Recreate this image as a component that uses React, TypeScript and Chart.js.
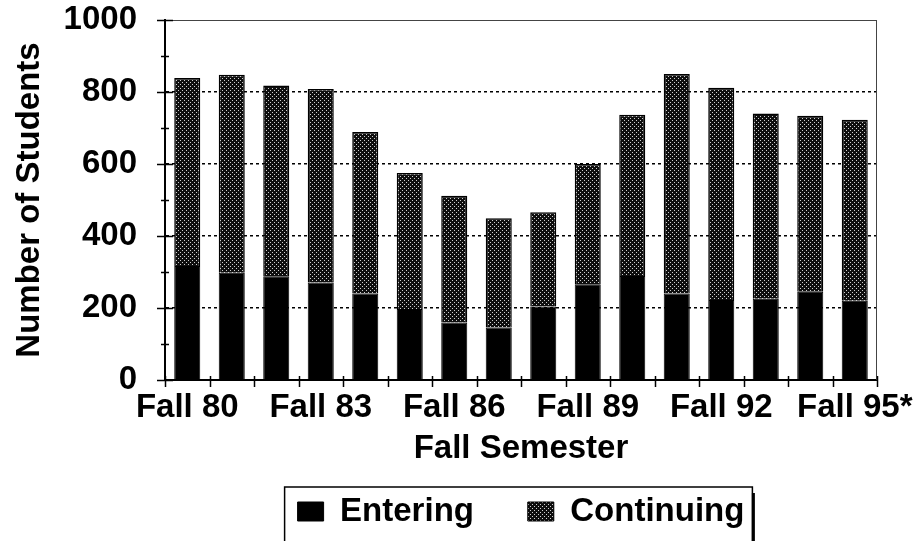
import React, { useEffect, useRef } from 'react';
import { Chart, registerables } from 'chart.js';

Chart.register(...registerables);

const semesters = [
  'Fall 80', 'Fall 81', 'Fall 82', 'Fall 83', 'Fall 84', 'Fall 85', 'Fall 86', 'Fall 87',
  'Fall 88', 'Fall 89', 'Fall 90', 'Fall 91', 'Fall 92', 'Fall 93', 'Fall 94', 'Fall 95*',
];
const entering = [317, 298, 288, 271, 240, 197, 160, 146, 204, 266, 289, 240, 222, 226, 245, 220];
const continuing = [522, 550, 530, 537, 449, 378, 352, 303, 262, 334, 448, 610, 590, 514, 489, 503];
const yMin = 0;
const yMax = 1000;
const yStep = 200;
const yMinorStep = 100;
const xLabelEvery = 3;
const seriesNames = ['Entering', 'Continuing'];
const xTitle = 'Fall Semester';
const yTitle = 'Number of Students';

const FONT = '"Liberation Sans", Arial, sans-serif';
const FS = 33;

function makePattern(): CanvasPattern | string {
  const c = document.createElement('canvas');
  c.width = 4;
  c.height = 4;
  const g = c.getContext('2d');
  if (!g) return '#333';
  g.fillStyle = '#0e0e0e';
  g.fillRect(0, 0, 4, 4);
  g.fillStyle = '#d0d0d0';
  g.fillRect(0, 0, 1, 1);
  g.fillRect(2, 2, 1, 1);
  const p = g.createPattern(c, 'repeat');
  return p || '#333';
}

const framePlugin = {
  id: 'frameAndTicks',
  afterDraw(chart: any) {
    const { ctx, chartArea: ca } = chart;
    const x = chart.scales.x;
    const y = chart.scales.y;
    ctx.save();
    // thin top and right frame
    ctx.lineWidth = 1;
    ctx.strokeStyle = '#444';
    ctx.beginPath();
    ctx.moveTo(ca.left, ca.top + 0.5);
    ctx.lineTo(ca.right, ca.top + 0.5);
    ctx.moveTo(ca.right - 0.5, ca.top);
    ctx.lineTo(ca.right - 0.5, ca.bottom);
    ctx.stroke();
    ctx.strokeStyle = '#000';
    // y tick marks crossing the axis
    ctx.lineWidth = 1.5;
    ctx.beginPath();
    for (let v = y.min; v <= y.max; v += yMinorStep) {
      const py = Math.round(y.getPixelForValue(v)) + 0.5;
      const len = v % yStep === 0 ? 8 : 4;
      ctx.moveTo(ca.left - len, py);
      ctx.lineTo(ca.left + len, py);
    }
    ctx.stroke();
    // x tick marks at category boundaries
    const n = semesters.length;
    const step = x.getPixelForValue(1) - x.getPixelForValue(0);
    const start = x.getPixelForValue(0) - step / 2;
    ctx.beginPath();
    for (let i = 0; i <= n; i++) {
      const px = Math.round(start + i * step) + 0.5;
      ctx.moveTo(px, ca.bottom - 4);
      ctx.lineTo(px, ca.bottom + 7);
    }
    ctx.stroke();
    // legend border
    const lg = chart.legend;
    if (lg && lg.legendHitBoxes && lg.legendHitBoxes.length) {
      const hb = lg.legendHitBoxes;
      const first = hb[0];
      const last = hb[hb.length - 1];
      const l = first.left - 13;
      const r = last.left + last.width + 8;
      const t = lg.top;
      ctx.lineWidth = 1.5;
      ctx.beginPath();
      ctx.moveTo(l, t + 80);
      ctx.lineTo(l, t);
      ctx.lineTo(r, t);
      ctx.lineTo(r, t + 80);
      ctx.stroke();
      ctx.lineWidth = 3;
      ctx.beginPath();
      ctx.moveTo(r + 1, t + 6);
      ctx.lineTo(r + 1, t + 80);
      ctx.stroke();
    }
    ctx.restore();
  },
};

export default function App() {
  const ref = useRef<HTMLCanvasElement | null>(null);

  useEffect(() => {
    if (!ref.current) return;
    const pattern = makePattern();
    const chart = new Chart(ref.current, {
      type: 'bar',
      data: {
        labels: semesters,
        datasets: [
          {
            label: seriesNames[0],
            data: entering,
            backgroundColor: '#000',
            borderColor: '#000',
            borderWidth: 1,
            barPercentage: 0.585,
            categoryPercentage: 1,
          },
          {
            label: seriesNames[1],
            data: continuing,
            backgroundColor: pattern as any,
            borderColor: '#000',
            borderWidth: 1.5,
            barPercentage: 0.585,
            categoryPercentage: 1,
          },
        ],
      },
      options: {
        responsive: false,
        animation: false,
        devicePixelRatio: 1,
        layout: { padding: { left: 8, right: 41, top: 20, bottom: 3 } },
        plugins: {
          tooltip: { enabled: false },
          legend: {
            position: 'bottom',
            fullSize: false,
            labels: {
              color: '#000',
              font: { family: FONT, size: FS, weight: 'bold' },
              boxWidth: 26,
              boxHeight: 19,
              padding: 8,
              generateLabels: (c: any) => {
                const items = Chart.defaults.plugins.legend.labels.generateLabels(c);
                items.forEach((it: any, i: number) => {
                  if (i < items.length - 1) it.text = it.text + '     ';
                  it.lineWidth = 1;
                });
                return items;
              },
            },
          },
        },
        scales: {
          x: {
            stacked: true,
            grid: {
              display: true,
              drawOnChartArea: false,
              drawTicks: true,
              tickLength: 8,
              color: 'rgba(0,0,0,0)',
              tickColor: 'rgba(0,0,0,0)',
            },
            border: { display: true, color: '#000', width: 2 },
            afterFit: (s: any) => {
              s.height = 107;
            },
            ticks: {
              color: '#000',
              font: { family: FONT, size: FS, weight: 'bold' },
              autoSkip: false,
              maxRotation: 0,
              padding: 0,
              callback: (_v: any, i: number) => (i % xLabelEvery === 0 ? semesters[i] : ''),
            },
            title: {
              display: true,
              text: xTitle,
              color: '#000',
              font: { family: FONT, size: FS, weight: 'bold' },
              padding: { top: 3, bottom: 18 },
            },
          },
          y: {
            stacked: true,
            min: yMin,
            max: yMax,
            afterFit: (s: any) => {
              s.width = 157;
            },
            grid: {
              drawTicks: true,
              tickLength: 28,
              tickColor: 'rgba(0,0,0,0)',
              lineWidth: 1.5,
              color: (ctx: any) => {
                const v = ctx.tick ? ctx.tick.value : 0;
                return v === yMin || v === yMax ? 'rgba(0,0,0,0)' : '#000';
              },
            },
            border: { display: true, color: '#000', width: 2, dash: [3, 3] },
            ticks: {
              stepSize: yStep,
              color: '#000',
              font: { family: FONT, size: FS, weight: 'bold' },
              padding: 0,
              callback: (v: any) => String(v),
            },
            title: {
              display: true,
              text: yTitle,
              color: '#000',
              font: { family: FONT, size: FS, weight: 'bold' },
              padding: { top: 2, bottom: 12 },
            },
          },
        },
      },
      plugins: [framePlugin],
    });
    return () => chart.destroy();
  }, []);

  return (
    <div style={{ position: 'absolute', left: 0, top: 0, width: 918, height: 541, background: '#fff' }}>
      <canvas ref={ref} width={918} height={541} />
    </div>
  );
}
